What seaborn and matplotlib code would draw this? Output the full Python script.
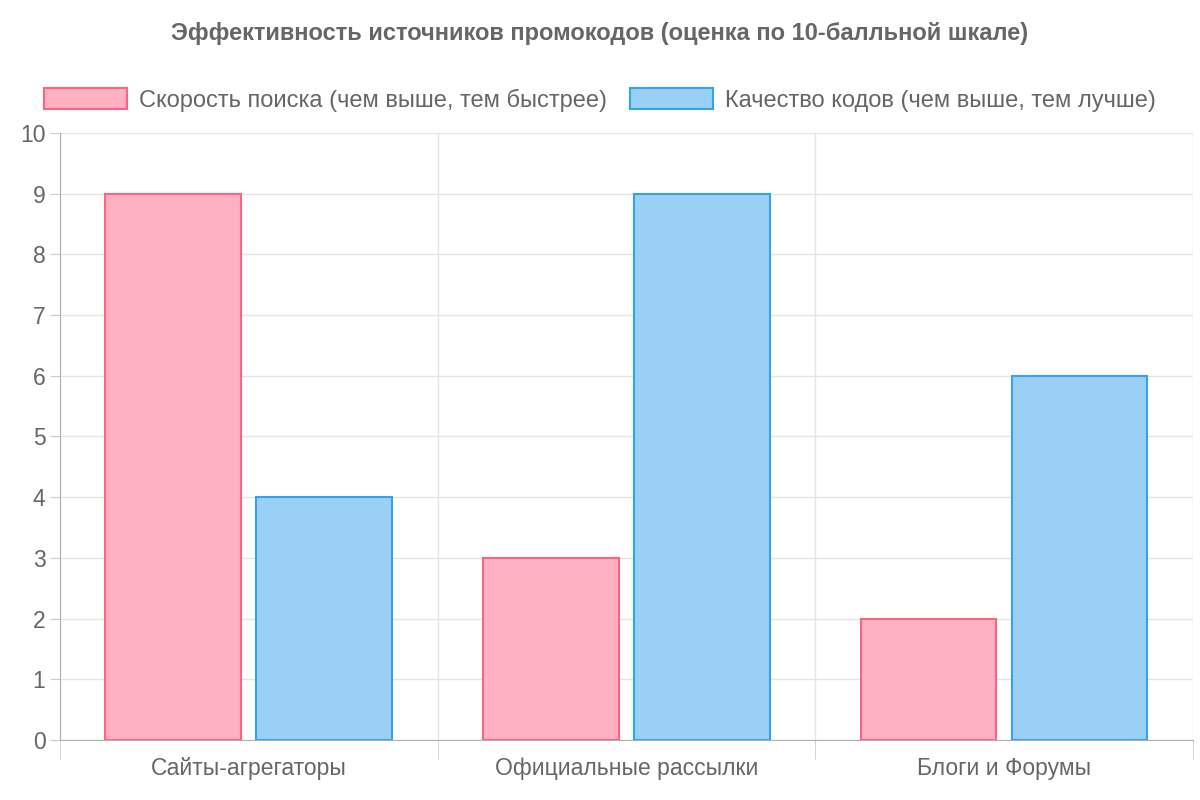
import matplotlib
matplotlib.use("Agg")
import matplotlib.pyplot as plt
from matplotlib.patches import Patch
import pandas as pd
import seaborn as sns

categories = ["Сайты-агрегаторы", "Официальные рассылки", "Блоги и Форумы"]
series_names = ["Скорость поиска (чем выше, тем быстрее)", "Качество кодов (чем выше, тем лучше)"]
speed = [9, 3, 2]
quality = [4, 9, 6]

fills = ["#FFB1C1", "#9AD0F5"]
edges = ["#FF6384", "#36A2EB"]
text_color = "#666666"

df = pd.DataFrame({
    "source": categories * 2,
    "series": [series_names[0]] * 3 + [series_names[1]] * 3,
    "score": speed + quality,
})

plt.rcParams["font.family"] = "Liberation Sans"
fig = plt.figure(figsize=(12, 8), dpi=100)
ax = fig.add_axes([0.05, 0.075, 0.944, 0.759])

sns.barplot(data=df, x="source", y="score", hue="series", palette=fills, saturation=1,
            width=0.8, gap=0.1, legend=False, ax=ax, zorder=3)
for cont, ec in zip(ax.containers, edges):
    for bar in cont:
        bar.set_edgecolor(ec)
        bar.set_linewidth(1.5)

ax.set_xlim(-0.5, 2.5)
ax.set_ylim(0, 10)
ax.set_yticks(range(0, 11))
ax.set_xticks([-0.5, 0.5, 1.5, 2.5], minor=True)
ax.tick_params(axis="x", which="major", length=0, pad=12, labelsize=16.5, colors=text_color)
ax.tick_params(axis="x", which="minor", length=14, color="#cccccc")
ax.tick_params(axis="y", length=7, color="#cccccc", labelsize=16.5, colors=text_color)
ax.grid(axis="y", color="#e5e5e5", linewidth=1, zorder=0)
ax.grid(axis="x", which="minor", color="#e5e5e5", linewidth=1, zorder=0)
ax.set_axisbelow(True)
for s in ["top", "right"]:
    ax.spines[s].set_visible(False)
for s in ["left", "bottom"]:
    ax.spines[s].set_color("#b0b0b0")
ax.set_xlabel("")
ax.set_ylabel("")

handles = [Patch(facecolor=f, edgecolor=e, linewidth=1.5) for f, e in zip(fills, edges)]
fig.legend(handles, series_names, loc="center", bbox_to_anchor=(0.5, 0.875), ncol=2,
           frameon=False, fontsize=17, labelcolor=text_color, handlelength=3.5,
           handleheight=1.0, columnspacing=1.0, handletextpad=0.5)
fig.text(0.5, 0.958, "Эффективность источников промокодов (оценка по 10-балльной шкале)",
         ha="center", va="center", fontsize=17, fontweight="bold", color=text_color)

fig.savefig("out.png", dpi=100)
